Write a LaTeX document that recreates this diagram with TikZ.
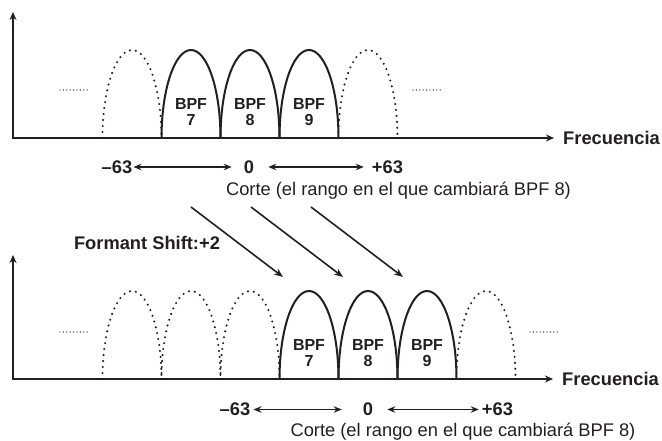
\documentclass[tikz,border=0pt]{standalone}
\usepackage{fontspec}
\setmainfont{Liberation Sans}
\usepackage{xcolor}
\definecolor{cInk}{HTML}{231F20}
\usepackage{tikz}
\usetikzlibrary{positioning,arrows.meta,calc}
\tikzset{
  axis-line/.style={line width=2pt,draw=cInk,
    {Stealth[length=8pt,width=7pt]}-{Stealth[length=8pt,width=7pt]}},
  arch-on/.style={line width=2pt,draw=cInk},
  arch-off/.style={line width=2.3pt,draw=cInk,dash pattern=on 0pt off 6pt,line cap=round},
  gap-dots/.style={line width=1.4pt,draw=cInk,dash pattern=on 0pt off 3.4pt,line cap=round},
  range-arrow/.style={{Stealth[length=8pt,width=6.5pt]}-{Stealth[length=8pt,width=6.5pt]},
    line width=1.5pt,draw=cInk},
  shift-arrow/.style={-{Stealth[length=9pt,width=7pt]},line width=1.6pt,draw=cInk},
  txt-bpf/.style={font=\bfseries\fontsize{16}{16}\selectfont,align=center,
    inner sep=0pt,text=cInk},
  txt-label/.style={font=\bfseries\fontsize{18.3}{20}\selectfont,inner sep=0pt,text=cInk},
  txt-note/.style={font=\fontsize{18.3}{20}\selectfont,inner sep=0pt,text=cInk},
}

\begin{document}
\begin{tikzpicture}[x=1pt,y=1pt]
  \useasboundingbox (0,0) rectangle (662,441);

  % --- oben: Ausgangslage ---
  \coordinate (t1) at (13,429);
  \coordinate (o1) at (13,303);
  \node[txt-label,anchor=west] (f1) at (563,303) {Frecuencia};
  \draw[axis-line,shorten >=9pt] (t1) -- (o1) -- (o1 -| f1.west);
  \foreach \x in {102.5,338.5}
    \draw[arch-off] (\x,303) arc[start angle=180,end angle=0,x radius=29.5pt,y radius=88pt];
  \foreach \x in {161.5,220.5,279.5}
    \draw[arch-on] (\x,303) arc[start angle=180,end angle=0,x radius=29.5pt,y radius=88pt];
  \node[txt-bpf] (a7) at (191,329) {BPF\\7};
  \node[txt-bpf] (a8) at (250,329) {BPF\\8};
  \node[txt-bpf] (a9) at (309,329) {BPF\\9};
  \draw[gap-dots] (60,351) -- (88,351);
  \draw[gap-dots] (413,351) -- (441,351);

  \node[txt-label] (lo1) at (117,274) {–63};
  \node[txt-label] (mid1) at (249,274) {0};
  \node[txt-label] (hi1) at (387.5,274) {+63};
  \draw[range-arrow,shorten <=1pt,shorten >=12pt] (lo1.east) -- (mid1.west);
  \draw[range-arrow,shorten <=14pt,shorten >=8pt] (mid1.east) -- (hi1.west);
  \node[txt-note,anchor=base] (cut1) at (398.5,245.5) {Corte (el rango en el que cambiará BPF 8)};

  % --- Verschiebung ---
  \node[txt-label,anchor=base] (shift) at (147,191) {Formant Shift:+2};
  \coordinate (s7) at (191,234);
  \coordinate (s8) at (251,234);
  \coordinate (s9) at (311,234);
  \coordinate (e7) at (283,164);
  \coordinate (e8) at (343,164);
  \coordinate (e9) at (403,164);
  \foreach \n in {7,8,9}
    \draw[shift-arrow] (s\n) -- (e\n);

  % --- unten: verschoben ---
  \coordinate (t2) at (13,186);
  \coordinate (o2) at (13,62);
  \node[txt-label,anchor=west] (f2) at (562,62) {Frecuencia};
  \draw[axis-line,shorten >=9pt] (t2) -- (o2) -- (o2 -| f2.west);
  \foreach \x in {102.5,161.5,220.5,456.5}
    \draw[arch-off] (\x,62) arc[start angle=180,end angle=0,x radius=29.5pt,y radius=88pt];
  \foreach \x in {279.5,338.5,397.5}
    \draw[arch-on] (\x,62) arc[start angle=180,end angle=0,x radius=29.5pt,y radius=88pt];
  \node[txt-bpf] (b7) at (309,88) {BPF\\7};
  \node[txt-bpf] (b8) at (368,88) {BPF\\8};
  \node[txt-bpf] (b9) at (427,88) {BPF\\9};
  \draw[gap-dots] (60,109) -- (88,109);
  \draw[gap-dots] (530,109) -- (559,109);

  \node[txt-label] (lo2) at (235,31.5) {–63};
  \node[txt-label] (mid2) at (368,31.5) {0};
  \node[txt-label] (hi2) at (497.5,31.5) {+63};
  \draw[range-arrow,shorten <=3pt,shorten >=21pt] (lo2.east) -- (mid2.west);
  \draw[range-arrow,shorten <=14pt,shorten >=3pt] (mid2.east) -- (hi2.west);
  \node[txt-note,anchor=base] (cut2) at (463,4.5) {Corte (el rango en el que cambiará BPF 8)};
\end{tikzpicture}
\end{document}
